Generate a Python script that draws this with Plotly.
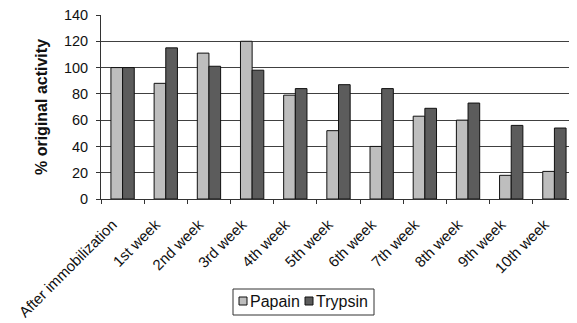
import plotly.graph_objects as go

categories = ["After immobilization", "1st week", "2nd week", "3rd week", "4th week",
              "5th week", "6th week", "7th week", "8th week", "9th week", "10th week"]
papain = [100, 88, 111, 120, 79, 52, 40, 63, 60, 18, 21]
trypsin = [100, 115, 101, 98, 84, 87, 84, 69, 73, 56, 54]
y_ticks = [0, 20, 40, 60, 80, 100, 120, 140]

PAPAIN_C = "#bebebe"
TRYPSIN_C = "#5c5c5c"
EDGE = "#111111"

# page body has an 8px default margin; size the figure so it fills the window
OFF = 8
W, H = 577 - OFF, 323 - OFF
L, R, T = 101 - OFF, 1, 15 - OFF
PH = 184
B = H - T - PH
PW = W - L - R


def px(x):
    return (x - OFF - L) / PW


def py(y):
    return (T + PH - (y - OFF)) / PH


fig = go.Figure()
fig.add_trace(go.Bar(x=categories, y=papain, name="Papain", showlegend=False,
                     marker=dict(color=PAPAIN_C, line=dict(color=EDGE, width=1))))
fig.add_trace(go.Bar(x=categories, y=trypsin, name="Trypsin", showlegend=False,
                     marker=dict(color=TRYPSIN_C, line=dict(color=EDGE, width=1))))

fig.update_layout(
    width=W, height=H,
    margin=dict(l=L, r=R, t=T, b=B, autoexpand=False),
    paper_bgcolor="white", plot_bgcolor="white",
    barmode="group", bargap=0.46, bargroupgap=0.0,
    font=dict(family="Arial, Liberation Sans, sans-serif", color="#111111"),
)
fig.update_xaxes(
    type="category", tickangle=-45, tickfont=dict(size=15), automargin=False,
    showline=True, linecolor="#333333", linewidth=1,
    ticks="outside", tickson="boundaries", ticklen=4, tickcolor="#333333",
    showgrid=False, ticklabeloverflow="allow",
    ticklabelstandoff=10, ticklabelshift=-10,
)
fig.update_yaxes(
    range=[0, 140], tickvals=y_ticks, tickfont=dict(size=14.5), automargin=False,
    showline=True, linecolor="#333333", linewidth=1,
    ticks="outside", ticklen=4, tickcolor="#333333", ticklabelstandoff=5,
    showgrid=True, gridcolor="#404040", gridwidth=1, ticklabeloverflow="allow",
    zeroline=False,
    title=dict(text="<b>% original activity</b>", font=dict(size=16), standoff=12),
)
# right frame edge
fig.add_shape(type="line", xref="paper", yref="paper", x0=1, x1=1, y0=0, y1=1,
              line=dict(color="#aaaaaa", width=1))

# legend (box, swatches, labels)
fig.add_shape(type="rect", xref="paper", yref="paper",
              x0=px(233), x1=px(374), y0=py(315), y1=py(289),
              line=dict(color="#333333", width=1), fillcolor="white")
for x0, color in [(239, PAPAIN_C), (305, TRYPSIN_C)]:
    fig.add_shape(type="rect", xref="paper", yref="paper",
                  x0=px(x0), x1=px(x0 + 8), y0=py(305), y1=py(297),
                  line=dict(color=EDGE, width=1), fillcolor=color)
for x0, label in [(248, "Papain"), (314, "Trypsin")]:
    fig.add_annotation(xref="paper", yref="paper", x=px(x0), y=py(301),
                       xanchor="left", yanchor="middle", showarrow=False,
                       text=label, font=dict(size=16, color="#111111"))

fig.write_html("out.html")
